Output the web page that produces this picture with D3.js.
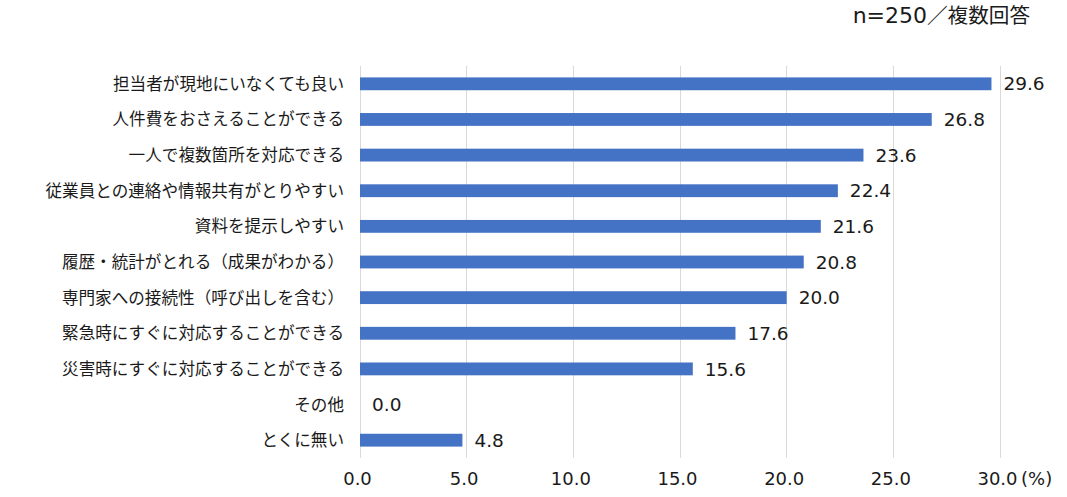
<!DOCTYPE html>
<html>
<head>
<meta charset="utf-8">
<script src="https://cdn.jsdelivr.net/npm/d3@7"></script>
<style>
  html, body { margin: 0; padding: 0; background: #fff; }
  svg { display: block; }
</style>
</head>
<body>
<svg id="chart" width="1067" height="497"></svg>
<script>
const categories = [
  "担当者が現地にいなくても良い",
  "人件費をおさえることができる",
  "一人で複数箇所を対応できる",
  "従業員との連絡や情報共有がとりやすい",
  "資料を提示しやすい",
  "履歴・統計がとれる（成果がわかる）",
  "専門家への接続性（呼び出しを含む）",
  "緊急時にすぐに対応することができる",
  "災害時にすぐに対応することができる",
  "その他",
  "とくに無い"
];
const values = [29.6, 26.8, 23.6, 22.4, 21.6, 20.8, 20.0, 17.6, 15.6, 0.0, 4.8];
const xTicks = [0, 5, 10, 15, 20, 25, 30];
const unitLabel = "(%)";
const noteLatin = "n=250";
const noteCJK = "／複数回答";

const svg = d3.select("#chart");
const margin = {left: 360, right: 67, top: 66, bottom: 39};
const W = 1067, H = 497;
const cjk = "'Noto Sans CJK JP', 'Noto Sans', sans-serif";
const num = "'DejaVu Sans', 'Noto Sans CJK JP', sans-serif";
const textColor = "#1a1a1a";

const x = d3.scaleLinear().domain([0, 30]).range([margin.left, W - margin.right]);
const y = d3.scaleBand().domain(categories).range([margin.top, H - margin.bottom])
  .paddingInner(0.64).paddingOuter(0.32);

// gridlines
svg.append("g").selectAll("line").data(xTicks).join("line")
  .attr("x1", d => x(d)).attr("x2", d => x(d))
  .attr("y1", margin.top).attr("y2", H - margin.bottom)
  .attr("stroke", "#d9d9d9").attr("stroke-width", 1)
  .attr("shape-rendering", "crispEdges");

// bars
svg.append("g").selectAll("rect").data(values).join("rect")
  .attr("x", x(0))
  .attr("y", (d, i) => y(categories[i]))
  .attr("width", d => x(d) - x(0))
  .attr("height", y.bandwidth())
  .attr("fill", "#4472c4");

// value labels
svg.append("g").selectAll("text").data(values).join("text")
  .attr("x", d => x(d) + 12)
  .attr("y", (d, i) => y(categories[i]) + y.bandwidth() / 2)
  .attr("dy", "0.36em")
  .attr("font-family", num).attr("font-size", 18.5)
  .attr("fill", textColor)
  .text(d => d.toFixed(1));

// category axis
const yAxis = d3.axisLeft(y).tickSize(0).tickPadding(16);
const gy = svg.append("g").attr("transform", `translate(${x(0)},0)`).call(yAxis);
gy.select(".domain").remove();
gy.selectAll("text").attr("font-family", cjk).attr("font-size", 16.6)
  .attr("fill", textColor).attr("dy", "0.36em");

// x axis
const xAxis = d3.axisBottom(x).tickValues(xTicks).tickSize(0).tickPadding(14)
  .tickFormat(d => d.toFixed(1));
const gx = svg.append("g").attr("transform", `translate(0,${H - margin.bottom})`).call(xAxis);
gx.select(".domain").remove();
gx.selectAll("text").attr("font-family", num).attr("font-size", 18)
  .attr("fill", textColor).attr("dx", -3);

// unit label
svg.append("text")
  .attr("x", x(30) + 21).attr("y", H - margin.bottom + 27)
  .attr("font-family", num).attr("font-size", 18).attr("fill", textColor)
  .text(unitLabel);

// note at top right
const note = svg.append("text")
  .attr("x", 1030).attr("y", 23).attr("text-anchor", "end")
  .attr("fill", textColor);
note.append("tspan").attr("font-family", num).attr("font-size", 22).text(noteLatin);
note.append("tspan").attr("font-family", cjk).attr("font-size", 20.6).text(noteCJK);
</script>
</body>
</html>
